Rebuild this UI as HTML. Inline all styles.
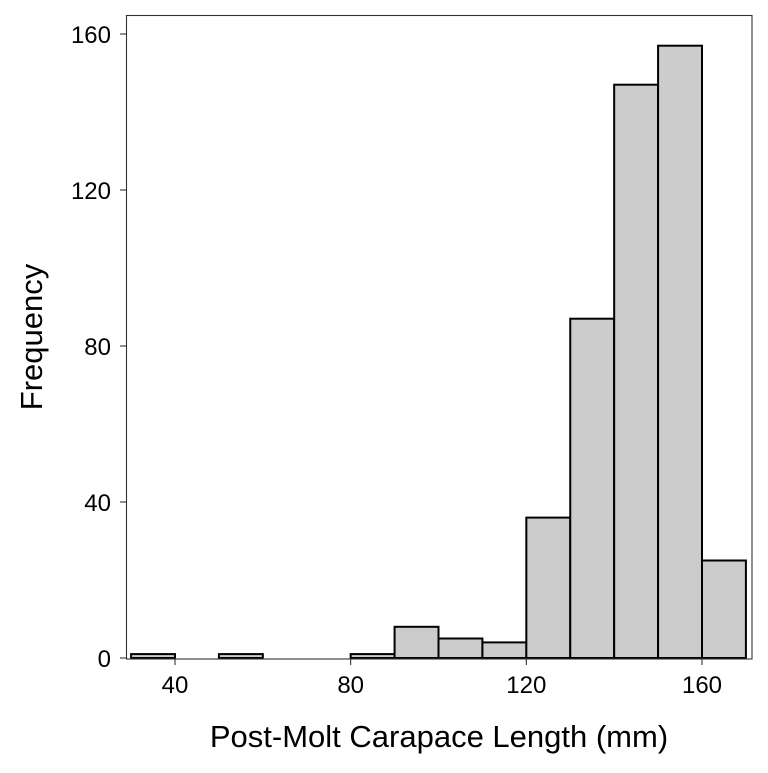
<!DOCTYPE html>
<html><head><meta charset="utf-8"><style>
body{margin:0;background:#fff}
svg text{font-family:"Liberation Sans",Arial,sans-serif;fill:#000}
</style></head><body>
<svg id="chart" width="768" height="768" xmlns="http://www.w3.org/2000/svg">
<rect x="0" y="0" width="768" height="768" fill="#fff"/>
<g id="bars"></g>
<rect x="126.5" y="15.5" width="625.5" height="643.5" fill="none" stroke="#333" stroke-width="1.1"/>
<g id="axes"></g>
<text x="439" y="747" font-size="31" text-anchor="middle">Post-Molt Carapace Length (mm)</text>
<text transform="translate(42,337) rotate(-90)" font-size="31" text-anchor="middle">Frequency</text>
</svg>
<script>
const binStarts=[30,40,50,60,70,80,90,100,110,120,130,140,150,160];
const counts=[1,0,1,0,0,1,8,5,4,36,87,147,157,25];
const xTicks=[40,80,120,160];
const yTicks=[0,40,80,120,160];
const binWidth=10;
const NS="http://www.w3.org/2000/svg";
function sx(v){return 175+(v-40)*(527/120);}
function sy(v){return 658-v*3.9;}
const bars=document.getElementById('bars');
binStarts.forEach((b,i)=>{
  if(counts[i]<=0)return;
  const r=document.createElementNS(NS,'rect');
  
  
  r.setAttribute('x',sx(b));r.setAttribute('width',sx(b+binWidth)-sx(b));
  r.setAttribute('y',sy(counts[i]));r.setAttribute('height',sy(0)-sy(counts[i]));
  r.setAttribute('fill','#cccccc');r.setAttribute('stroke','#000');r.setAttribute('stroke-width','2');
  bars.appendChild(r);
});
const axes=document.getElementById('axes');
xTicks.forEach(t=>{
  const l=document.createElementNS(NS,'line');
  
  
  l.setAttribute('x1',sx(t));l.setAttribute('x2',sx(t));l.setAttribute('y1',659);l.setAttribute('y2',665);
  l.setAttribute('stroke','#333');l.setAttribute('stroke-width','1.1');axes.appendChild(l);
  const tx=document.createElementNS(NS,'text');
  
  
  tx.setAttribute('x',sx(t));tx.setAttribute('y',693);tx.setAttribute('font-size','24');tx.setAttribute('text-anchor','middle');
  tx.setAttribute('fill','#000');tx.textContent=t;axes.appendChild(tx);
});
yTicks.forEach(t=>{
  const l=document.createElementNS(NS,'line');
  
  
  l.setAttribute('x1',120);l.setAttribute('x2',126.5);l.setAttribute('y1',sy(t));l.setAttribute('y2',sy(t));
  l.setAttribute('stroke','#333');l.setAttribute('stroke-width','1.1');axes.appendChild(l);
  const tx=document.createElementNS(NS,'text');
  
  
  tx.setAttribute('x',111);tx.setAttribute('y',sy(t)+9);tx.setAttribute('font-size','24');tx.setAttribute('text-anchor','end');
  tx.setAttribute('fill','#000');tx.textContent=t;axes.appendChild(tx);
});
</script>
</body></html>
